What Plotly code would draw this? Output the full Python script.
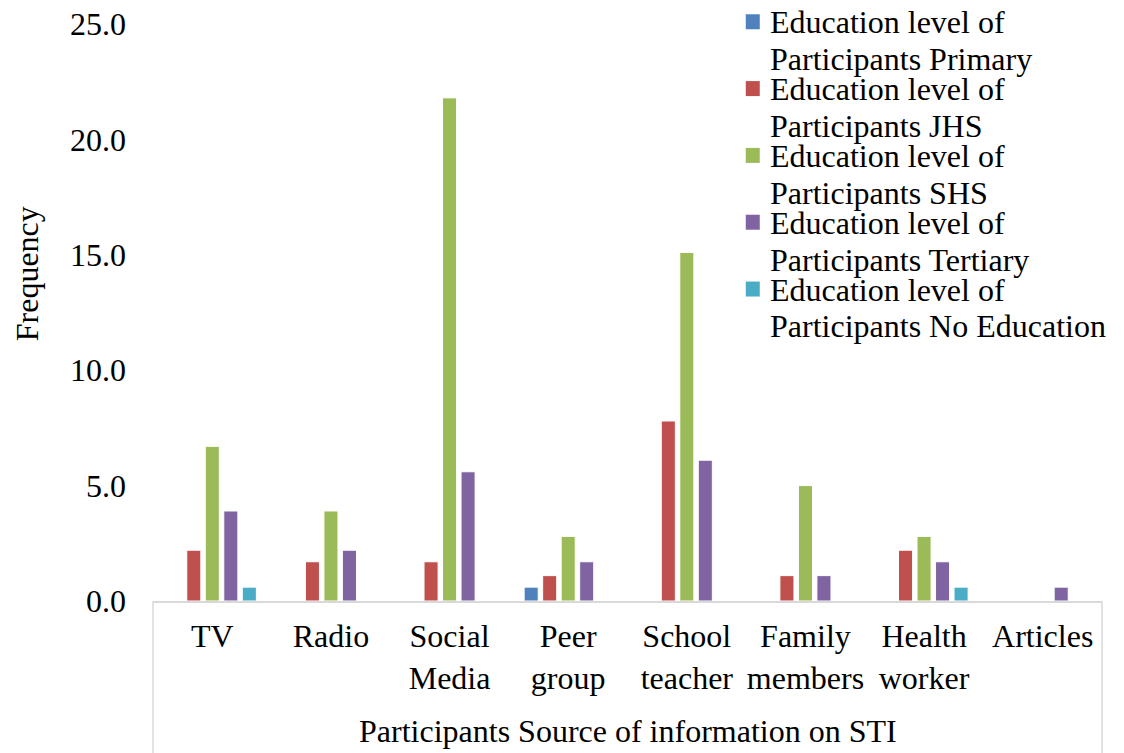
import plotly.graph_objects as go

categories = ["TV", "Radio", "Social<br>Media", "Peer<br>group", "School<br>teacher",
              "Family<br>members", "Health<br>worker", "Articles"]

primary = [0, 0, 0, 0.6, 0, 0, 0, 0]
jhs = [2.2, 1.7, 1.7, 1.1, 7.8, 1.1, 2.2, 0]
shs = [6.7, 3.9, 21.8, 2.8, 15.1, 5.0, 2.8, 0]
tertiary = [3.9, 2.2, 5.6, 1.7, 6.1, 1.1, 1.7, 0.6]
no_education = [0.6, 0, 0, 0, 0, 0, 0.6, 0]

series_names = [
    ("Education level of", "Participants Primary"),
    ("Education level of", "Participants JHS"),
    ("Education level of", "Participants SHS"),
    ("Education level of", "Participants Tertiary"),
    ("Education level of", "Participants No Education"),
]
series_values = [primary, jhs, shs, tertiary, no_education]
series_colors = ["#4F81BD", "#C0504D", "#9BBB59", "#8064A2", "#4BACC6"]

FONT = "Liberation Serif"
SIZE = 32
GRID = "#d9d9d9"

fig = go.Figure()
for (l1, l2), vals, color in zip(series_names, series_values, series_colors):
    fig.add_trace(go.Bar(
        x=categories, y=vals, name=f"{l1} {l2}", showlegend=False,
        marker=dict(color=color, line=dict(color="white", width=1)),
    ))

# Legend drawn as text lines with square swatches at the top right
annotations = []
shapes = []
legend_top = 1.003      # first entry centre (paper y)
entry_step = 0.1158     # spacing between entries
line_step = 0.064       # spacing between the two lines of one entry
text_x = 0.648
swatch_x = 0.632
for i, ((l1, l2), color) in enumerate(zip(series_names, series_colors)):
    y1 = legend_top - i * entry_step
    y2 = y1 - line_step
    for txt, yy in ((l1, y1), (l2, y2)):
        annotations.append(dict(
            text=txt, xref="paper", yref="paper", x=text_x, y=yy,
            xanchor="left", yanchor="middle", showarrow=False,
            font=dict(family=FONT, size=SIZE, color="black"),
        ))
    shapes.append(dict(
        type="rect", xref="paper", yref="paper",
        xsizemode="pixel", ysizemode="pixel",
        xanchor=swatch_x, yanchor=y1, x0=-7, x1=7, y0=-7, y1=8,
        fillcolor=color, line=dict(width=0),
    ))

annotations += [
    dict(text="Frequency", textangle=-90, xref="paper", yref="paper",
         x=-0.1328, y=0.568, xanchor="center", yanchor="middle",
         showarrow=False, font=dict(family=FONT, size=SIZE, color="black")),
    dict(text="Participants Source of information on STI", xref="paper", yref="paper",
         x=0.5, y=-0.2253, xanchor="center", yanchor="middle",
         showarrow=False, font=dict(family=FONT, size=SIZE, color="black")),
]

# Frame around the category axis area
shapes += [
    dict(type="line", xref="paper", yref="paper", x0=0, x1=0, y0=0, y1=-0.28,
         line=dict(color=GRID, width=1.5)),
    dict(type="line", xref="paper", yref="paper", x0=1, x1=1, y0=0, y1=-0.28,
         line=dict(color=GRID, width=1.5)),
]

fig.update_layout(
    width=1124, height=753,
    margin=dict(l=153, r=22, t=24, b=152, autoexpand=False),
    paper_bgcolor="white", plot_bgcolor="white",
    font=dict(family=FONT, size=SIZE, color="black"),
    barmode="group", bargap=0.22, bargroupgap=0.24,
    showlegend=False,
    xaxis=dict(
        showline=True, linecolor=GRID, linewidth=1.5,
        ticks="", ticklabelstandoff=6,
        tickfont=dict(family=FONT, size=SIZE, color="black"),
    ),
    yaxis=dict(
        range=[0, 25], dtick=5, tickformat=".1f",
        showgrid=False, zeroline=False, showline=False,
        ticks="", ticklabelstandoff=26,
        tickfont=dict(family=FONT, size=SIZE, color="black"),
    ),
    annotations=annotations,
    shapes=shapes,
)

fig.write_html("out.html")
